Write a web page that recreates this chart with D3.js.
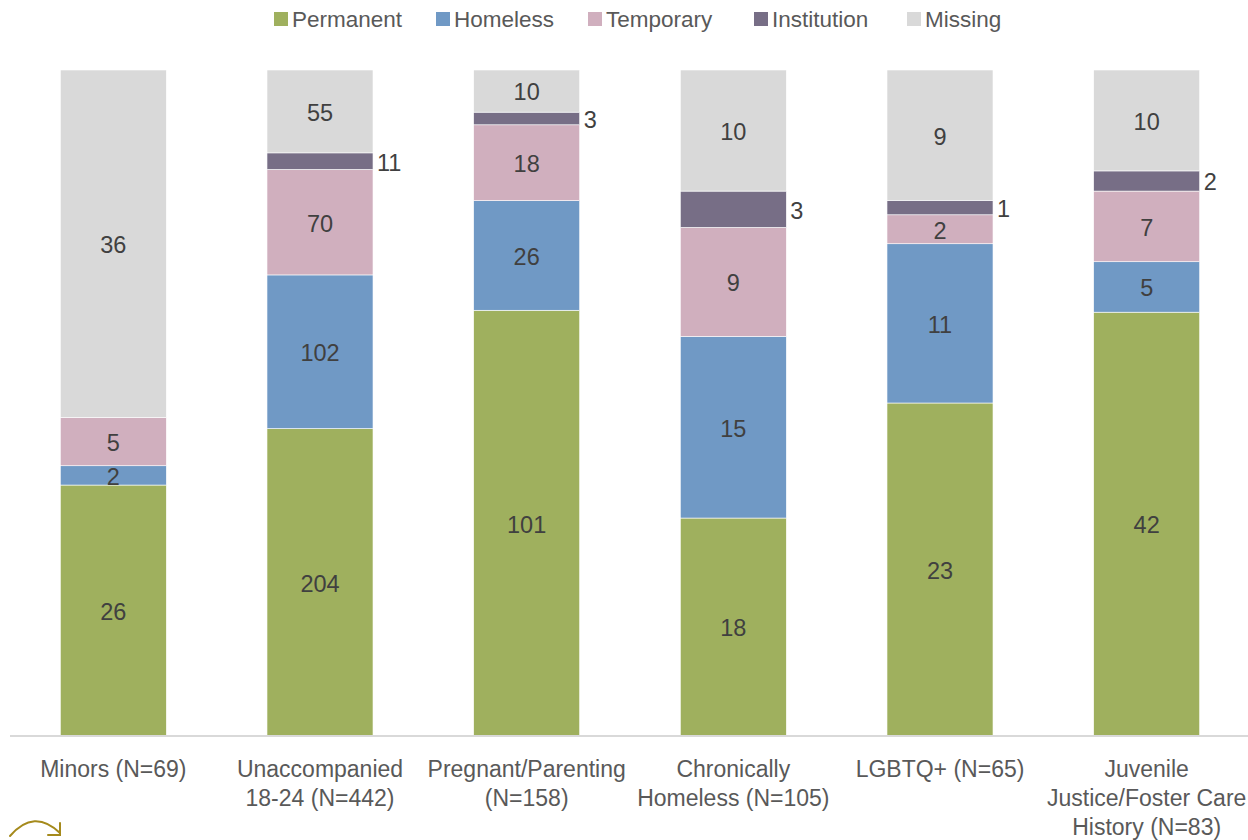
<!DOCTYPE html>
<html>
<head>
<meta charset="utf-8">
<script src="https://cdn.jsdelivr.net/npm/d3@7"></script>
<style>
  html, body { margin: 0; padding: 0; background: #ffffff; }
  svg { display: block; font-family: "Liberation Sans", Arial, sans-serif; }
</style>
</head>
<body>
<svg id="chart" width="1248" height="840"></svg>
<script>
// Housing destination at exit, by youth subpopulation (counts)
const categories = [
  "Minors (N=69)",
  "Unaccompanied\n18-24 (N=442)",
  "Pregnant/Parenting\n(N=158)",
  "Chronically\nHomeless (N=105)",
  "LGBTQ+ (N=65)",
  "Juvenile\nJustice/Foster Care\nHistory (N=83)"
];
const seriesNames = ["Permanent", "Homeless", "Temporary", "Institution", "Missing"];
const permanent   = [26, 204, 101, 18, 23, 42];
const homeless    = [2, 102, 26, 15, 11, 5];
const temporary   = [5, 70, 18, 9, 2, 7];
const institution = [0, 11, 3, 3, 1, 2];
const missing     = [36, 55, 10, 10, 9, 10];

const colors = {
  Permanent: "#9fb05e",
  Homeless: "#7099c5",
  Temporary: "#d0afbe",
  Institution: "#776e86",
  Missing: "#d9d9d9"
};

const valuesBySeries = {
  Permanent: permanent,
  Homeless: homeless,
  Temporary: temporary,
  Institution: institution,
  Missing: missing
};

const rows = categories.map((c, i) => {
  const r = { category: c };
  seriesNames.forEach(s => { r[s] = valuesBySeries[s][i]; });
  return r;
});

const svg = d3.select("#chart");
const W = 1248, H = 840;
const margin = { top: 70, right: 0, bottom: 104, left: 10 };
const plotBottom = H - margin.bottom; // 736

const x = d3.scaleBand()
  .domain(categories)
  .range([margin.left, W + 2])
  .paddingInner(0.487)
  .paddingOuter(0.2435);

const y = d3.scaleLinear().domain([0, 1]).range([plotBottom, margin.top]);

// 100% stacking: each bar is normalised to its own sum
const stack = d3.stack().keys(seriesNames).offset(d3.stackOffsetExpand);
const stacked = stack(rows);

const valueFont = 23.5;
const labelFont = 23;
const valueColor = "#404040";
const labelColor = "#595959";

const layers = svg.append("g").selectAll("g")
  .data(stacked)
  .join("g")
  .attr("fill", d => colors[d.key]);

layers.selectAll("rect")
  .data(d => d.map(p => Object.assign(p, { key: d.key })))
  .join("rect")
  .attr("x", d => x(d.data.category))
  .attr("width", x.bandwidth())
  .attr("y", d => y(d[1]))
  .attr("height", d => y(d[0]) - y(d[1]))
  .attr("stroke", "#ffffff")
  .attr("stroke-width", 0.6);

// value labels
const labelG = svg.append("g")
  .attr("font-size", valueFont)
  .attr("fill", valueColor);

stacked.forEach(layer => {
  layer.forEach(p => {
    const v = p.data[layer.key];
    if (!v) return;
    const yc = (y(p[0]) + y(p[1])) / 2;
    const outside = layer.key === "Institution";
    labelG.append("text")
      .attr("x", outside ? x(p.data.category) + x.bandwidth() + 4
                         : x(p.data.category) + x.bandwidth() / 2)
      .attr("y", yc)
      .attr("dy", "0.4em")
      .attr("text-anchor", outside ? "start" : "middle")
      .text(v);
  });
});

// category axis
const axis = d3.axisBottom(x).tickSize(0).tickPadding(0);
const axisG = svg.append("g")
  .attr("transform", `translate(0,${plotBottom})`)
  .call(axis);
axisG.select(".domain")
  .attr("d", `M${margin.left},0H${W}`)
  .attr("stroke", "#d9d9d9")
  .attr("stroke-width", 2);
axisG.selectAll(".tick text").each(function (d) {
  const t = d3.select(this);
  t.text(null)
    .attr("font-size", labelFont)
    .attr("font-family", "Liberation Sans, Arial, sans-serif")
    .attr("fill", labelColor)
    .attr("y", 0)
    .attr("dy", null);
  d.split("\n").forEach((line, i) => {
    t.append("tspan")
      .attr("x", 0)
      .attr("y", 41 + i * 29)
      .text(line);
  });
});

// legend
const legend = svg.append("g").attr("font-size", 22.5).attr("fill", labelColor);
const legendX = [274, 436, 588, 754, 907];
seriesNames.forEach((s, i) => {
  const g = legend.append("g").attr("transform", `translate(${legendX[i]},0)`);
  g.append("rect")
    .attr("x", 0).attr("y", 12)
    .attr("width", 14).attr("height", 14)
    .attr("fill", colors[s]);
  g.append("text")
    .attr("x", 18).attr("y", 27)
    .text(s);
});

// curved arrow mark in the lower-left corner
const arrow = svg.append("g")
  .attr("fill", "none")
  .attr("stroke", "#a58a1c")
  .attr("stroke-width", 2)
  .attr("stroke-linecap", "round");
arrow.append("path").attr("d", "M10,836 Q34,808 60,833");
arrow.append("path").attr("d", "M48,835 L60,835 L60,823");
</script>
</body>
</html>
